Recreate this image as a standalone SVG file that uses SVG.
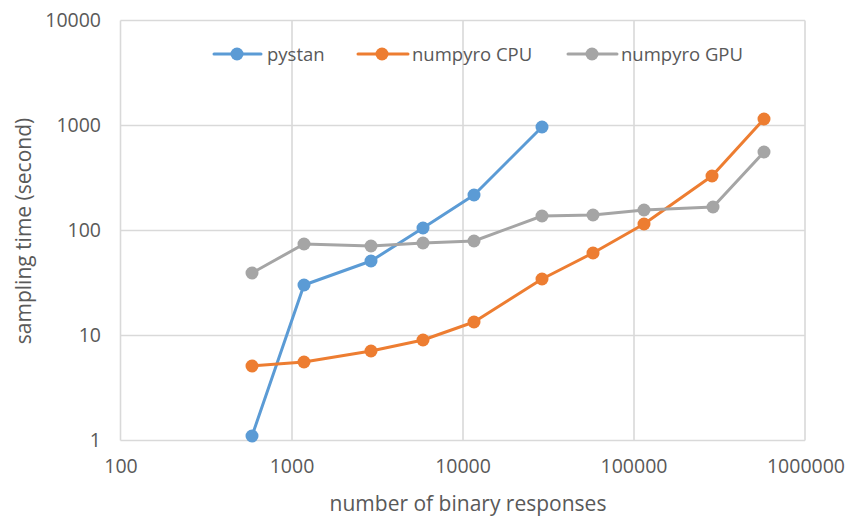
<svg xmlns="http://www.w3.org/2000/svg" width="846" height="520" viewBox="0 0 846 520">
<style>
.grid{stroke:#d9d9d9;stroke-width:1.6;fill:none}
.tick{font-family:"Open Sans","Liberation Sans",sans-serif;font-size:19.5px;fill:#595959}
.title{font-family:"Open Sans","Liberation Sans",sans-serif;font-size:21px;fill:#595959}
.leg{font-family:"Open Sans","Liberation Sans",sans-serif;font-size:18.5px;fill:#595959}
.s{fill:none;stroke-width:3;stroke-linejoin:round;stroke-linecap:round}
.b{stroke:#5b9bd5}.bf{fill:#5b9bd5}
.o{stroke:#ed7d31}.of{fill:#ed7d31}
.g{stroke:#a5a5a5}.gf{fill:#a5a5a5}
</style>
<rect width="846" height="520" fill="#ffffff"/>
<g id="gridlines">
<path class="grid" d="M120.5 20.5H805M120.5 125.5H805M120.5 230.5H805M120.5 335.5H805M120.5 440.5H805"/>
<path class="grid" d="M120.5 20.5V440.5M292 20.5V440.5M463 20.5V440.5M634 20.5V440.5M805 20.5V440.5"/>
</g>
<g id="y-ticks" class="tick" text-anchor="end">
<text x="101" y="27">10000</text>
<text x="101" y="132">1000</text>
<text x="101" y="237">100</text>
<text x="101" y="342">10</text>
<text x="101" y="447">1</text>
</g>
<g id="x-ticks" class="tick" text-anchor="middle">
<text x="121" y="473">100</text>
<text x="292" y="473">1000</text>
<text x="463" y="473">10000</text>
<text x="634" y="473">100000</text>
<text x="806" y="473">1000000</text>
</g>
<text id="x-title" class="title" x="468" y="511" text-anchor="middle">number of binary responses</text>
<text id="y-title" class="title" transform="translate(31 231) rotate(-90)" text-anchor="middle">sampling time (second)</text>
<g id="series-pystan">
<polyline class="s b" points="252,436 304,285 371,261 423,228 474,195 542,127"/>
<g class="bf"><circle cx="252" cy="436" r="6.5"/><circle cx="304" cy="285" r="6.5"/><circle cx="371" cy="261" r="6.5"/><circle cx="423" cy="228" r="6.5"/><circle cx="474" cy="195" r="6.5"/><circle cx="542" cy="127" r="6.5"/></g>
</g>
<g id="series-numpyro-cpu">
<polyline class="s o" points="252,366 304,362 371,351 423,340 474,322 542,279 593,253 644,224 712,176 764,119"/>
<g class="of"><circle cx="252" cy="366" r="6.5"/><circle cx="304" cy="362" r="6.5"/><circle cx="371" cy="351" r="6.5"/><circle cx="423" cy="340" r="6.5"/><circle cx="474" cy="322" r="6.5"/><circle cx="542" cy="279" r="6.5"/><circle cx="593" cy="253" r="6.5"/><circle cx="644" cy="224" r="6.5"/><circle cx="712" cy="176" r="6.5"/><circle cx="764" cy="119" r="6.5"/></g>
</g>
<g id="series-numpyro-gpu">
<polyline class="s g" points="252,273 304,244 371,246 423,243 474,241 542,216 593,215 644,210 713,207 764,152"/>
<g class="gf"><circle cx="252" cy="273" r="6.5"/><circle cx="304" cy="244" r="6.5"/><circle cx="371" cy="246" r="6.5"/><circle cx="423" cy="243" r="6.5"/><circle cx="474" cy="241" r="6.5"/><circle cx="542" cy="216" r="6.5"/><circle cx="593" cy="215" r="6.5"/><circle cx="644" cy="210" r="6.5"/><circle cx="713" cy="207" r="6.5"/><circle cx="764" cy="152" r="6.5"/></g>
</g>
<g id="legend">
<g id="legend-pystan"><line class="s b" x1="214" y1="54" x2="261" y2="54"/><circle class="bf" cx="237" cy="54" r="6.5"/><text class="leg" x="267" y="60.5">pystan</text></g>
<g id="legend-cpu"><line class="s o" x1="358" y1="54" x2="408" y2="54"/><circle class="of" cx="382" cy="54" r="6.5"/><text class="leg" x="412" y="60.5">numpyro CPU</text></g>
<g id="legend-gpu"><line class="s g" x1="568" y1="54" x2="617" y2="54"/><circle class="gf" cx="592" cy="54" r="6.5"/><text class="leg" x="621" y="60.5">numpyro GPU</text></g>
</g>
</svg>
